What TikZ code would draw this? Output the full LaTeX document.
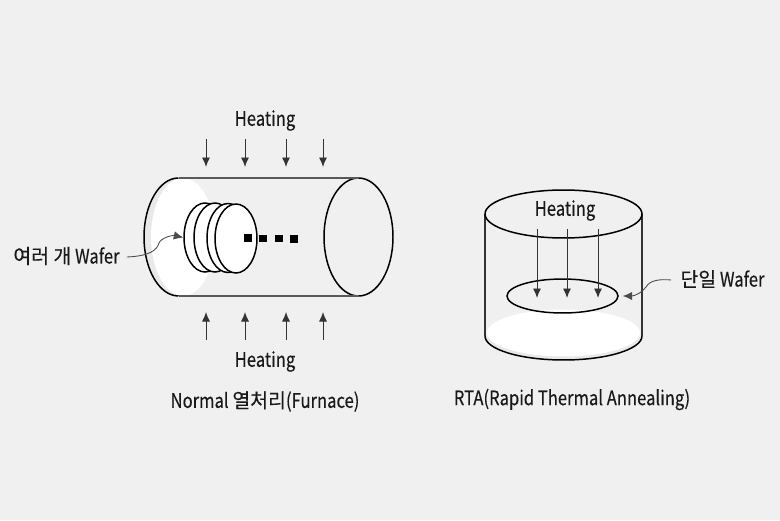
\documentclass[tikz,border=0pt]{standalone}
\usepackage{fontspec}
\setmainfont{Noto Sans CJK KR}[FakeStretch=0.83,FakeBold=0.25]
\newfontfamily\krfont{Noto Sans CJK KR}[FakeStretch=0.97,FakeBold=0.25]
\usetikzlibrary{arrows.meta,shapes.geometric}

\definecolor{pagebg}{HTML}{F0F0F0}
\definecolor{sliver}{HTML}{E9E9E9}

\begin{document}
\begin{tikzpicture}[
    x=0.02cm, y=-0.02cm,
    label/.style={font=\fontsize{11.4pt}{13pt}\selectfont, inner sep=0pt, text=black!90},
    disc/.style={
        draw, ellipse, fill=white, line width=0.85pt, inner sep=0pt,
        minimum width=0.84cm, minimum height=1.38cm
    },
    rim/.style={draw, ellipse, line width=0.85pt, inner sep=0pt},
    glow/.style={ellipse, fill=white, inner sep=0pt},
    dotbox/.style={fill=black, inner sep=0pt, minimum size=0.15cm},
    heat/.style={-{Latex[length=1.9mm,width=1.6mm]}, line width=0.55pt, black!80},
    pointer/.style={-{Latex[length=1.9mm,width=1.7mm]}, line width=0.5pt, black!70}
]
\useasboundingbox (0,0) rectangle (780,520);
\fill[pagebg] (0,0) rectangle (780,520);

% 1. Furnace tube
\coordinate (tube_nw) at (178.5,178);
\coordinate (tube_sw) at (178.5,296);
\coordinate (tube_ne) at (358.5,178);
\coordinate (tube_se) at (358.5,296);
\fill[sliver] (tube_nw) arc[start angle=90,end angle=270,x radius=0.69cm,y radius=1.18cm] -- cycle;
\node[glow, minimum width=1.28cm, minimum height=2.36cm] (tube_glow) at (183,237) {};
\draw[line width=0.85pt] (tube_nw) arc[start angle=90,end angle=270,x radius=0.69cm,y radius=1.18cm];
\node[rim, minimum width=1.38cm, minimum height=2.36cm] (tube_end) at (358.5,237) {};
\draw[line width=0.7pt, black!65] (tube_nw) -- (tube_ne);
\draw[line width=0.7pt, black!65] (tube_sw) -- (tube_se);

% 2. Wafers in the tube
\node[disc] (wafer1) at (205,237.5) {};
\node[disc] (wafer2) at (215,237.5) {};
\node[disc] (wafer3) at (228,238) {};
\node[disc] (wafer4) at (236,238.5) {};
\node[dotbox] (dot1) at (248,238) {};
\node[dotbox] (dot2) at (263,238.5) {};
\node[dotbox] (dot3) at (279,238.5) {};
\node[dotbox] (dot4) at (294,239) {};

% 3. Heating arrows of the furnace
\coordinate (top1) at (206,139);
\coordinate (top2) at (245,139);
\coordinate (top3) at (286,139);
\coordinate (top4) at (323,139);
\coordinate (topend1) at (206,167);
\coordinate (topend2) at (245,167);
\coordinate (topend3) at (286,167);
\coordinate (topend4) at (323,167);
\coordinate (bot1) at (206,340);
\coordinate (bot2) at (245,340);
\coordinate (bot3) at (286,340);
\coordinate (bot4) at (323,340);
\coordinate (botend1) at (206,312);
\coordinate (botend2) at (245,312);
\coordinate (botend3) at (286,312);
\coordinate (botend4) at (323,312);
\draw[heat] (top1) -- (topend1);
\draw[heat] (top2) -- (topend2);
\draw[heat] (top3) -- (topend3);
\draw[heat] (top4) -- (topend4);
\draw[heat] (bot1) -- (botend1);
\draw[heat] (bot2) -- (botend2);
\draw[heat] (bot3) -- (botend3);
\draw[heat] (bot4) -- (botend4);

% 4. RTA chamber
\node[glow, minimum width=3.08cm, minimum height=0.96cm, fill=sliver] (floor_rim) at (563.5,336) {};
\node[glow, minimum width=3.06cm, minimum height=0.94cm] (floor_glow) at (563.5,333) {};
\coordinate (cham_w) at (485,214);
\coordinate (cham_e) at (642,214);
\coordinate (cham_sw) at (485,336);
\coordinate (cham_se) at (642,336);
\draw[line width=0.6pt, black!80] (cham_w) -- (cham_sw);
\draw[line width=0.6pt, black!80] (cham_e) -- (cham_se);
\draw[line width=0.85pt] (cham_sw) arc[start angle=180,end angle=360,x radius=1.57cm,y radius=0.48cm];
\node[rim, minimum width=3.14cm, minimum height=0.96cm] (cham_top) at (563.5,214) {};
\node[rim, minimum width=2.22cm, minimum height=0.68cm] (wafer_one) at (562.5,296) {};

% 5. Heating arrows of the chamber
\coordinate (lamp1) at (537,229);
\coordinate (lamp2) at (567,229);
\coordinate (lamp3) at (598,229);
\coordinate (lampend1) at (537,298);
\coordinate (lampend2) at (567,298);
\coordinate (lampend3) at (598,298);
\draw[heat] (lamp1) -- (lampend1);
\draw[heat] (lamp2) -- (lampend2);
\draw[heat] (lamp3) -- (lampend3);

% 6. Labels
\node[label] (heat_top) at (265,120.5) {Heating};
\node[label] (heat_bot) at (265,361.5) {Heating};
\node[label] (cap_furnace) at (265,401.5) {Normal {\krfont 열처리}(Furnace)};
\node[label] (heat_rta) at (565,210.5) {Heating};
\node[label] (cap_rta) at (572,399.5) {RTA(Rapid Thermal Annealing)};
\node[label] (many_wafer) at (66.5,256) {{\krfont 여러 개} Wafer};
\node[label] (one_wafer) at (722.5,279) {{\krfont 단일} Wafer};

% Pointers
\draw[pointer] (many_wafer.east) ++(7,1) .. controls (150,256) and (157,250) .. (159,243)
    .. controls (161,238) and (172,235) .. (wafer1.west);
\draw[pointer] (one_wafer.west) ++(-9,1) .. controls (660,279) and (650,280) .. (646,287)
    .. controls (642,293) and (634,296) .. ([xshift=0.08cm]wafer_one.east);

\end{tikzpicture}
\end{document}
